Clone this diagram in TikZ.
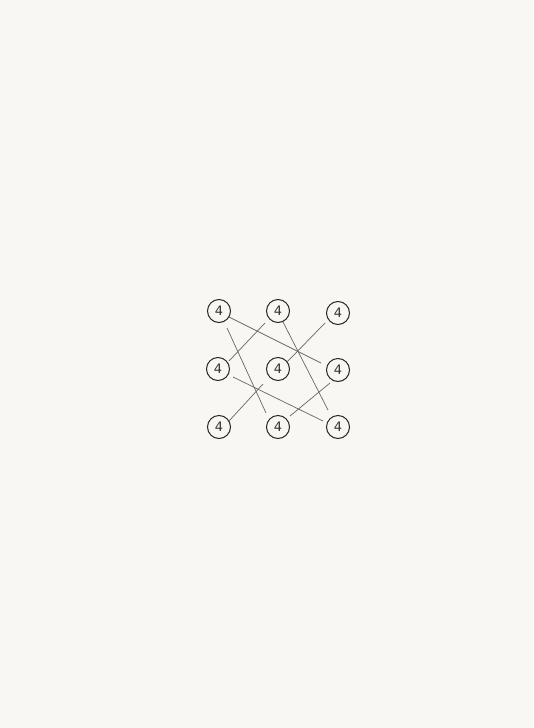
\documentclass[tikz,border=0pt]{standalone}
\usepackage{fontspec}
\setmainfont{DejaVu Sans}
\begin{document}
\begin{tikzpicture}[x=1pt,y=-1pt,
  num/.style={circle,draw=black!85,line width=1pt,minimum size=23pt,inner sep=0pt,font=\fontsize{13}{13}\selectfont,text=black!80},
  link/.style={draw=black!60,line width=0.7pt}]
\fill[fill={rgb,255:red,248;green,247;blue,243}] (0,0) rectangle (533,728);
\useasboundingbox (0,0) rectangle (533,728);
\node[num] (a1) at (219,311) {4};
\node[num] (a2) at (278,311) {4};
\node[num] (a3) at (338,313) {4};
\node[num] (b1) at (218,369) {4};
\node[num] (b2) at (278,369) {4};
\node[num] (b3) at (338,370) {4};
\node[num] (c1) at (219,427) {4};
\node[num] (c2) at (278,427) {4};
\node[num] (c3) at (338,427) {4};
\coordinate (p1s) at (229,317); \coordinate (p1e) at (321,363);
\coordinate (p2s) at (227,328); \coordinate (p2e) at (266,413);
\coordinate (p3s) at (265,323); \coordinate (p3e) at (229,361);
\coordinate (p4s) at (283,322); \coordinate (p4e) at (328,410);
\coordinate (p5s) at (325,323); \coordinate (p5e) at (287,362);
\coordinate (p6s) at (233,377); \coordinate (p6e) at (323,421);
\coordinate (p7s) at (263,384); \coordinate (p7e) at (229,421);
\coordinate (p8s) at (330,383); \coordinate (p8e) at (290,416);
\draw[link] (p1s) -- (p1e);
\draw[link] (p2s) -- (p2e);
\draw[link] (p3s) -- (p3e);
\draw[link] (p4s) -- (p4e);
\draw[link] (p5s) -- (p5e);
\draw[link] (p6s) -- (p6e);
\draw[link] (p7s) -- (p7e);
\draw[link] (p8s) -- (p8e);
\end{tikzpicture}
\end{document}
